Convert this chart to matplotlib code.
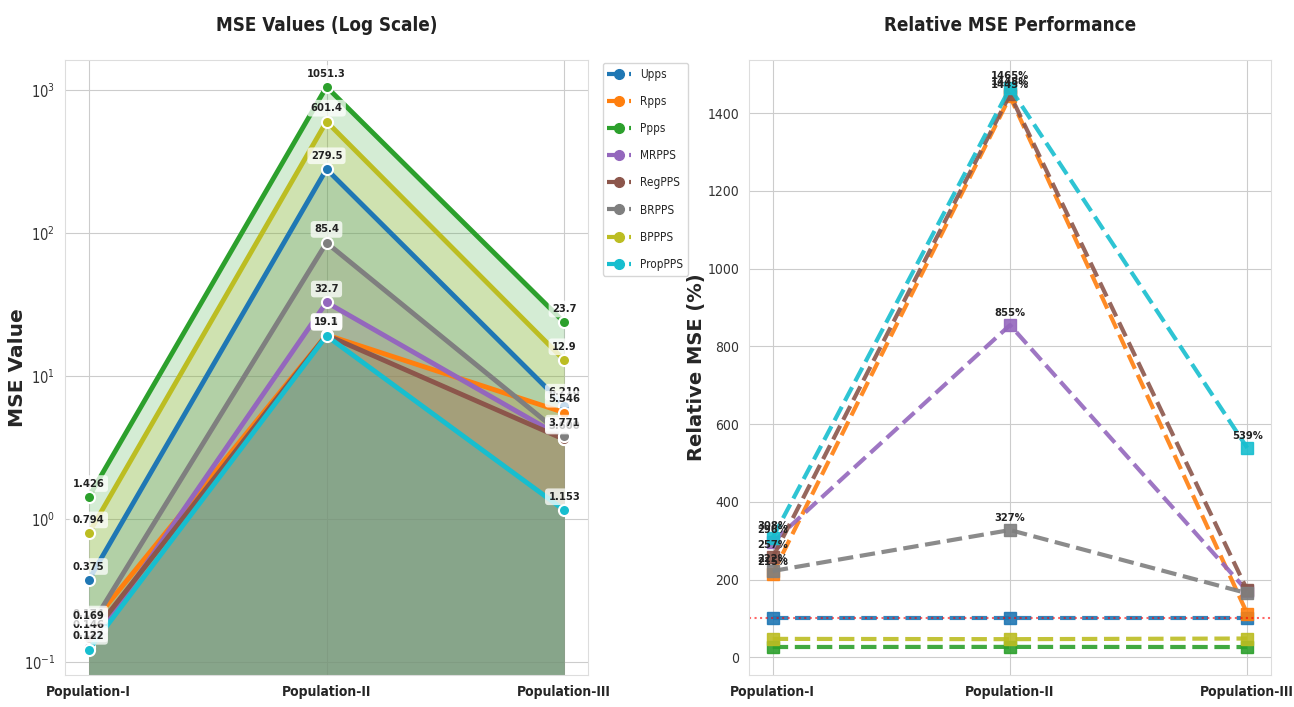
import matplotlib
matplotlib.use("Agg")
import matplotlib.pyplot as plt
import seaborn as sns
from matplotlib.lines import Line2D

populations = ['Population-I', 'Population-II', 'Population-III']
methods = ['Upps', 'Rpps', 'Ppps', 'MRPPS', 'RegPPS', 'BRPPS', 'BPPPS', 'PropPPS']
upps = [0.375, 279.5, 6.210]
rpps = [0.1744, 19.37, 5.546]
ppps = [1.426, 1051.3, 23.7]
mrpps = [0.1267, 32.7, 3.65]
regpps = [0.1459, 19.30, 3.60]
brpps = [0.169, 85.4, 3.771]
bppps = [0.794, 601.4, 12.9]
proppps = [0.1218, 19.08, 1.153]
colors = ['#1f77b4', '#ff7f0e', '#2ca02c', '#9467bd', '#8c564b', '#7f7f7f', '#bcbd22', '#17becf']

series = [upps, rpps, ppps, mrpps, regpps, brpps, bppps, proppps]
relative = [[u / v * 100 for u, v in zip(upps, s)] for s in series]

sns.set_style("whitegrid")
plt.rcParams['font.family'] = ['DejaVu Sans']
CND = 'condensed'

fig = plt.figure(figsize=(12.94, 7.07), dpi=100)
ax1 = fig.add_axes([65/1294, 1-675/707, (588-65)/1294, (675-60)/707])
ax2 = fig.add_axes([749/1294, 1-675/707, (1271-749)/1294, (675-60)/707])

x = list(range(len(populations)))
ybottom = 0.081
for name, s, c in zip(methods, series, colors):
    ax1.fill_between(x, s, ybottom, color=c, alpha=0.2, linewidth=0)
    ax1.plot(x, s, color=c, lw=3.5, marker='o', ms=8, markeredgecolor='white',
             markeredgewidth=1.5, zorder=3)
for name, s, c in zip(methods, series, colors):
    for xi, v in zip(x, s):
        txt = f"{v:.3f}" if v < 10 else f"{v:.1f}"
        ax1.annotate(txt, (xi, v), xytext=(0, 6), textcoords='offset points',
                     ha='center', va='bottom', fontsize=8, fontweight='bold',
                     fontstretch=CND, color='#222222',
                     bbox=dict(boxstyle='round,pad=0.3', fc='white', ec='none', alpha=0.75),
                     zorder=5)
ax1.set_yscale('log')
ax1.set_ylim(ybottom, 1620)
ax1.set_xticks(x)
ax1.set_xticklabels(populations, fontsize=10, fontweight='bold', fontstretch=CND)
ax1.set_ylabel('MSE Value', fontsize=14.5, fontweight='bold')
ax1.yaxis.set_label_coords(-0.073, 0.5)
ax1.set_title('MSE Values (Log Scale)', fontsize=13.5, fontweight='bold', pad=21,
              fontstretch=CND, color='#222222')
ax1.tick_params(axis='y', labelsize=10.5, labelcolor='#333333')
for lbl in ax1.get_yticklabels():
    lbl.set_fontstretch(CND)
for sp in ax1.spines.values():
    sp.set_color('#dddddd')

handles = [Line2D([0], [0], color=c, lw=3, ls='--', marker='o', ms=7) for c in colors]
leg = ax1.legend(handles, methods, loc='upper left', bbox_to_anchor=(1.028, 0.995),
                 borderaxespad=0, prop={'stretch': CND, 'size': 8.5},
                 frameon=True, handlelength=2.0, labelspacing=1.2)

for name, r, c in zip(methods, relative, colors):
    ax2.plot(x, r, color=c, lw=3, ls='--', marker='s', ms=8, alpha=0.9)
    for xi, v in zip(x, r):
        if v > 200:
            ax2.annotate(f"{v:.0f}%", (xi, v), xytext=(0, 5), textcoords='offset points',
                         ha='center', va='bottom', fontsize=8, fontweight='bold',
                         fontstretch=CND, color='#222222')
ax2.axhline(100, color='red', ls=':', lw=1.5, alpha=0.6)
ax2.set_xticks(x)
ax2.set_xticklabels(populations, fontsize=10, fontweight='bold', fontstretch=CND)
ax2.set_ylabel('Relative MSE (%)', fontsize=14, fontweight='bold')
ax2.yaxis.set_label_coords(-0.082, 0.5)
ax2.set_title('Relative MSE Performance', fontsize=13.5, fontweight='bold', pad=21,
              fontstretch=CND, color='#222222')
ax2.tick_params(axis='y', labelsize=10, labelcolor='#333333')
for lbl in ax2.get_yticklabels():
    lbl.set_fontstretch(CND)
for sp in ax2.spines.values():
    sp.set_color('#dddddd')

fig.savefig('out.png', dpi=100)
